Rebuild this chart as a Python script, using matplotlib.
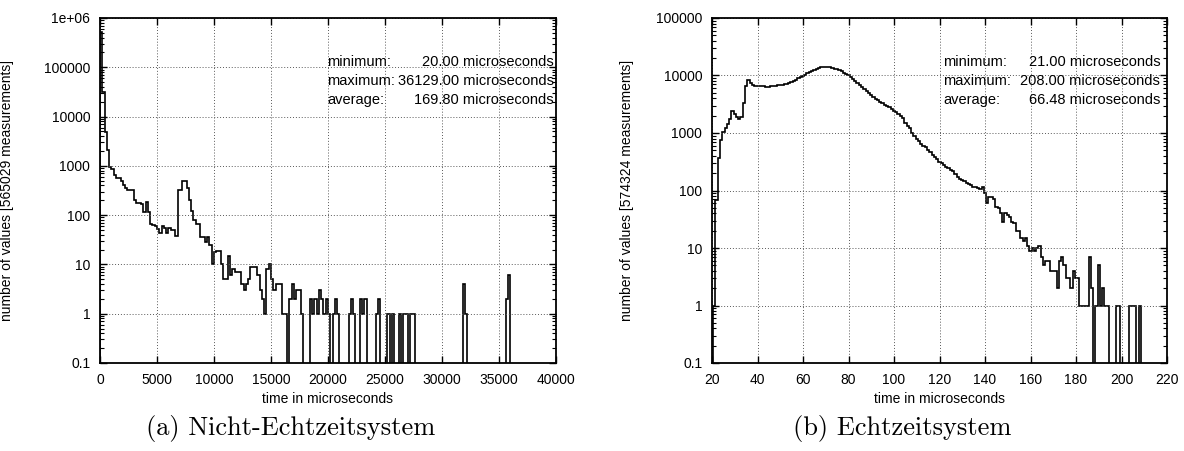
import matplotlib.pyplot as plt
import numpy as np
from matplotlib.ticker import FixedLocator, FixedFormatter, LogLocator, NullFormatter

plt.rcParams['font.family'] = ['Liberation Sans', 'DejaVu Sans']

# left histogram: 200 microsecond bins starting at 0
left_bin_width = 200
left_counts = [
    520000, 32000, 4900, 2100, 950, 870, 660, 570, 570, 500,
    410, 360, 320, 320, 320, 205, 180, 175, 170, 118,
    185, 118, 66, 62, 59, 53, 44, 59, 55, 44,
    54, 50, 50, 38, 325, 330, 490, 490, 350, 205,
    120, 80, 66, 66, 36, 36, 29, 36, 25, 10,
    18, 19, 19, 10, 5, 5, 15, 6, 8, 7,
    7, 7, 4, 3, 4, 5, 9, 9, 9, 6,
    3, 2, 1, 8, 10, 5, 3, 4, 4, 4,
    1, 1, 0, 2, 4, 2, 3, 3, 1, 0,
    0, 0, 2, 1, 2, 1, 3, 2, 1, 2,
    1, 0, 1, 2, 1, 0, 0, 0, 0, 1,
    2, 1, 0, 0, 2, 1, 2, 0, 0, 0,
    0, 1, 2, 0, 0, 0, 1, 0, 1, 0,
    0, 1, 0, 1, 1, 0, 1, 1, 0, 0,
    0, 0, 0, 0, 0, 0, 0, 0, 0, 0,
    0, 0, 0, 0, 0, 0, 0, 0, 0, 4,
    1, 0, 0, 0, 0, 0, 0, 0, 0, 0,
    0, 0, 0, 0, 0, 0, 0, 0, 2, 6,
]

# right histogram: 1 microsecond bins, first bin centred on 21
right_first = 21
right_counts = [
    1, 68, 365, 760, 1050, 1200, 1450, 1750, 2400, 2100,
    1900, 1750, 1900, 3300, 6500, 8300, 7500, 6800, 6600, 6600,
    6700, 6600, 6500, 6400, 6400, 6500, 6600, 6700, 6800, 6900,
    6900, 7000, 7200, 7400, 7700, 8100, 8500, 8900, 9400, 9900,
    10400, 10900, 11500, 12000, 12600, 13100, 13500, 13900, 14200, 14200,
    14000, 13800, 13500, 13200, 12800, 12300, 11800, 11200, 10600, 10000,
    9400, 8700, 8100, 7500, 6900, 6300, 5800, 5300, 4900, 4500,
    4200, 3900, 3700, 3500, 3300, 3100, 2900, 2800, 2600, 2450,
    2300, 2100, 1950, 1800, 1500, 1350, 1200, 1000, 900, 800,
    720, 650, 600, 580, 500, 460, 420, 390, 350, 310,
    300, 280, 260, 245, 230, 215, 195, 175, 160, 150,
    145, 135, 130, 125, 117, 115, 112, 108, 117, 90,
    60, 78, 78, 72, 52, 50, 40, 28, 40, 38,
    35, 28, 27, 20, 20, 15, 13, 15, 11, 9,
    10, 9, 10, 11, 7, 5, 6, 6, 4, 4,
    4, 2, 6, 7, 5, 3, 3, 2, 4, 3,
    3, 1, 1, 1, 1, 7, 2, 0, 1, 5,
    1, 2, 1, 1, 0, 0, 0, 1, 1, 0,
    0, 0, 0, 1, 1, 1, 0, 1,
]

stat_labels = ["minimum:", "maximum:", "average:"]
left_stats = [20.00, 36129.00, 169.80]
right_stats = [21.00, 208.00, 66.48]

left_xticks = [0, 5000, 10000, 15000, 20000, 25000, 30000, 35000, 40000]
right_xticks = [20, 40, 60, 80, 100, 120, 140, 160, 180, 200, 220]
left_yticks = [0.1, 1, 10, 100, 1000, 10000, 100000, 1e6]
left_ylabels = ["0.1", "1", "10", "100", "1000", "10000", "100000", "1e+06"]
right_yticks = [0.1, 1, 10, 100, 1000, 10000, 100000]
right_ylabels = ["0.1", "1", "10", "100", "1000", "10000", "100000"]

fig = plt.figure(figsize=(11.84, 4.51), dpi=100)
ax_l = fig.add_axes([100 / 1184, 88 / 451, 456 / 1184, 345 / 451])
ax_r = fig.add_axes([712 / 1184, 88 / 451, 455 / 1184, 345 / 451])


def draw_hist(ax, edges, counts, xticks, yticks, ylabels, n_total, stats,
              ylab_x, lx, rx):
    counts = np.asarray(counts, dtype=float)
    floor = 1e-3  # empty bins drop below the axis
    ax.stairs(np.where(counts > 0, counts, floor), edges, baseline=floor,
              color='black', linewidth=1.2)
    ax.set_yscale('log')
    ax.set_xlim(xticks[0], xticks[-1])
    ax.set_ylim(yticks[0], yticks[-1])
    ax.xaxis.set_major_locator(FixedLocator(xticks))
    ax.yaxis.set_major_locator(FixedLocator(yticks))
    ax.yaxis.set_major_formatter(FixedFormatter(ylabels))
    ax.yaxis.set_minor_locator(LogLocator(base=10, subs=np.arange(2, 10)))
    ax.yaxis.set_minor_formatter(NullFormatter())
    ax.grid(True, which='major', linestyle=(0, (1, 2)), color='0.35', linewidth=0.7)
    ax.tick_params(which='both', direction='in', top=True, right=True,
                   labelsize=10, color='black')
    ax.tick_params(which='major', length=5, width=1, pad=7)
    ax.tick_params(which='minor', length=3, width=0.8)
    for s in ax.spines.values():
        s.set_linewidth(1.3)
    ax.set_xlabel("time in microseconds", fontsize=10)
    ax.set_ylabel(f"number of values [{n_total} measurements]", fontsize=10)
    ax.xaxis.set_label_coords(0.5, -0.085)
    ax.yaxis.set_label_coords(ylab_x, 0.5)
    # statistics block, label left and value right aligned
    rows = [0.872, 0.817, 0.762]
    for lab, val, y in zip(stat_labels, stats, rows):
        ax.text(lx, y, lab, transform=ax.transAxes, fontsize=10.5,
                ha='left', va='center')
        ax.text(rx, y, f"{val:.2f} microseconds", transform=ax.transAxes,
                fontsize=10.5, ha='right', va='center')


left_edges = np.arange(len(left_counts) + 1) * left_bin_width
right_edges = np.arange(len(right_counts) + 1) + right_first - 0.5

draw_hist(ax_l, left_edges, left_counts, left_xticks, left_yticks, left_ylabels,
          565029, left_stats, -0.189, 0.498, 0.995)
draw_hist(ax_r, right_edges, right_counts, right_xticks, right_yticks, right_ylabels,
          574324, right_stats, -0.171, 0.508, 0.985)

fig.text(291 / 1184, 23 / 451, "(a) Nicht-Echtzeitsystem", fontfamily='cmr10',
         fontsize=19, ha='center', va='center')
fig.text(902 / 1184, 23 / 451, "(b) Echtzeitsystem", fontfamily='cmr10',
         fontsize=19, ha='center', va='center')

fig.savefig("out.png", dpi=100)
